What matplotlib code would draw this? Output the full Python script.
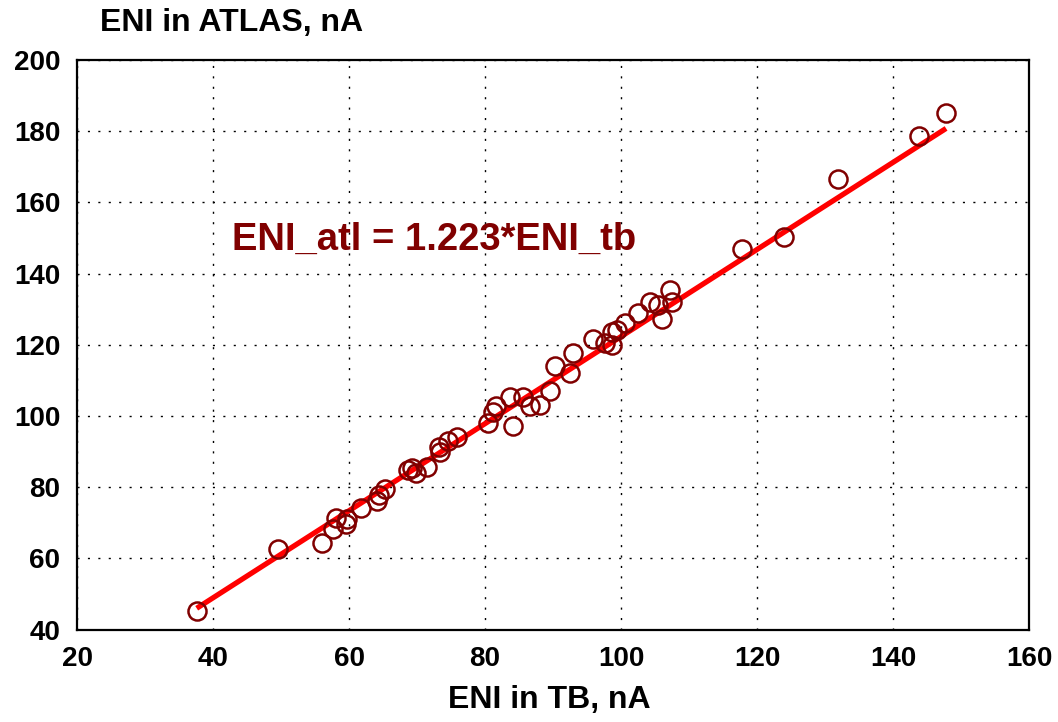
import matplotlib.pyplot as plt
import numpy as np

plt.rcParams["font.family"] = ["Liberation Sans", "DejaVu Sans"]
plt.rcParams["font.weight"] = "bold"

# ENI measured in test beam vs ENI in ATLAS, nA
eni_tb = [37.6, 49.6, 56.0, 57.6, 58.1, 59.6, 59.7, 61.8, 64.1, 64.4, 65.3,
          68.7, 69.3, 69.9, 71.5, 73.4, 73.2, 74.6, 75.9,
          80.4, 81.2, 81.6, 83.7, 84.1, 85.6, 86.6, 88.1, 89.6, 90.3, 92.5, 92.9,
          95.9, 97.6, 98.7, 98.7, 99.4, 100.6, 102.5, 104.3, 105.4, 106.0, 107.2, 107.5,
          117.8, 124.0, 131.9, 143.8, 147.8]
eni_atl = [45.2, 62.6, 64.3, 68.2, 71.3, 69.6, 71.0, 74.1, 76.1, 77.8, 79.5,
           84.8, 85.4, 84.0, 85.6, 89.9, 91.3, 93.0, 94.1,
           98.0, 101.1, 102.8, 105.3, 97.2, 105.3, 102.8, 103.1, 107.0, 113.9, 112.1, 117.7,
           121.5, 120.5, 120.0, 123.6, 124.2, 126.0, 128.9, 132.0, 131.2, 127.2, 135.4, 132.0,
           146.9, 150.3, 166.6, 178.6, 185.1]
slope = 1.223

x_ticks = [20, 40, 60, 80, 100, 120, 140, 160]
y_ticks = [40, 60, 80, 100, 120, 140, 160, 180, 200]

fig = plt.figure(figsize=(10.58, 7.22), dpi=100)
ax = fig.add_axes([0.0728, 0.128, 0.8998, 0.789])

fit_x = np.array([min(eni_tb), max(eni_tb)])
ax.plot(fit_x, slope * fit_x, color="red", lw=3.8, solid_capstyle="butt", zorder=2)
ax.plot(eni_tb, eni_atl, "o", mfc="none", mec="#800000", ms=13, mew=1.8, zorder=3)

ax.set_xlim(20, 160)
ax.set_ylim(40, 200)
ax.set_xticks(x_ticks)
ax.set_yticks(y_ticks)
ax.tick_params(length=0, labelsize=20, pad=12)
for lbl in ax.get_xticklabels() + ax.get_yticklabels():
    lbl.set_fontweight("bold")
ax.grid(True, color="black", linestyle=(0, (1.5, 6)), linewidth=1)
for s in ax.spines.values():
    s.set_linewidth(1.6)
    s.set_color("black")

ax.text(42.8, 149.5, "ENI_atl = 1.223*ENI_tb", color="#800000", fontsize=27.5,
        fontweight="bold", ha="left", va="center")

fig.text(0.219, 0.968, "ENI in ATLAS, nA", fontsize=23, fontweight="bold",
         ha="center", va="center")
fig.text(0.519, 0.03, "ENI in TB, nA", fontsize=23, fontweight="bold",
         ha="center", va="center")

fig.savefig("out.png", dpi=100)
